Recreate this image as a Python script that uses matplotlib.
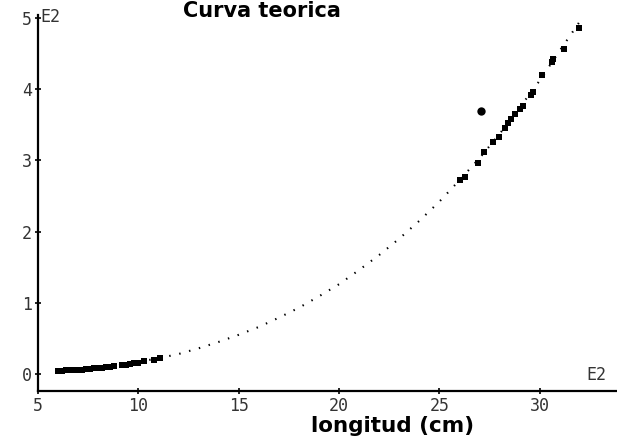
import matplotlib
matplotlib.use("Agg")
import matplotlib.pyplot as plt

# Theoretical curve, weight in E2 units
curve_x = [6, 7, 8, 9, 10, 11, 12, 13, 14, 15, 16, 17, 18, 19, 20, 21, 22,
           23, 24, 25, 26, 27, 28, 29, 30, 31, 32]
curve_y = [0.04, 0.06, 0.09, 0.12, 0.17, 0.22, 0.28, 0.36, 0.45, 0.55, 0.66,
           0.79, 0.93, 1.09, 1.26, 1.46, 1.67, 1.90, 2.15, 2.42, 2.72, 3.03,
           3.37, 3.74, 4.12, 4.54, 4.95]

# Observed data, small fish
low_x = [6.0, 6.2, 6.4, 6.6, 6.8, 7.0, 7.2, 7.4, 7.6, 7.8, 8.0, 8.2, 8.4, 8.6,
         8.8, 9.2, 9.4, 9.6, 9.8, 10.0, 10.3, 10.8, 11.1]
low_y = [0.04, 0.04, 0.05, 0.05, 0.05, 0.06, 0.06, 0.07, 0.07, 0.08, 0.08,
         0.09, 0.10, 0.10, 0.11, 0.13, 0.13, 0.14, 0.15, 0.16, 0.18, 0.20, 0.22]

# Observed data, large fish
high_x = [26.05, 26.3, 26.9, 27.2, 27.65, 27.95, 28.25, 28.4, 28.55, 28.75,
          29.0, 29.15, 29.55, 29.65, 30.1, 30.6, 30.65, 31.2, 31.95]
high_y = [2.73, 2.77, 2.96, 3.11, 3.25, 3.33, 3.46, 3.52, 3.58, 3.65, 3.72,
          3.76, 3.92, 3.96, 4.20, 4.38, 4.42, 4.56, 4.86]

# Outlier
out_x = [27.05]
out_y = [3.69]

x_ticks = [5, 10, 15, 20, 25, 30]
y_ticks = [0, 1, 2, 3, 4, 5]

W, H = 617, 444
fig = plt.figure(figsize=(W / 100, H / 100), dpi=100)
ax = fig.add_axes([38 / W, 1 - 391 / H, 1 - 38 / W, (391 - 15) / H])

ax.plot(curve_x, curve_y, color="black", lw=1.5, dashes=(0.7, 4.2),
        dash_capstyle="butt")
ax.plot(low_x, low_y, "s", color="black", ms=4.0, mew=0)
ax.plot(high_x, high_y, "s", color="black", ms=4.4, mew=0)
ax.plot(out_x, out_y, "o", color="black", ms=6, mew=0)

ax.set_xlim(5, 33.85)
ax.set_ylim(-0.239, 5.04)
ax.set_xticks(x_ticks)
ax.set_yticks(y_ticks)
mono = "DejaVu Sans Mono"
ax.set_xticklabels([str(v) for v in x_ticks], family=mono, fontsize=12,
                   color="#333333")
ax.set_yticklabels([str(v) for v in y_ticks], family=mono, fontsize=12,
                   color="#333333")
ax.tick_params(direction="inout", length=5, width=1.2, pad=2)
for s in ["top", "right"]:
    ax.spines[s].set_visible(False)
for s in ["left", "bottom"]:
    ax.spines[s].set_linewidth(1.6)

fig.text(40 / W, 1 - 17 / H, "E2", family=mono, fontsize=12, color="#333333",
         ha="left", va="center")
fig.text(586 / W, 1 - 375 / H, "E2", family=mono, fontsize=12, color="#333333",
         ha="left", va="center")

fig.text(262 / W, 1 - 17 / H, "Curva teorica", fontsize=15, ha="center",
         va="baseline", fontweight="bold", family="DejaVu Sans")
fig.text(393 / W, 1 - 432 / H, "longitud (cm)", fontsize=15.5, ha="center",
         va="baseline", fontweight="bold", family="DejaVu Sans")

fig.savefig("out.png", dpi=100, facecolor="white")
